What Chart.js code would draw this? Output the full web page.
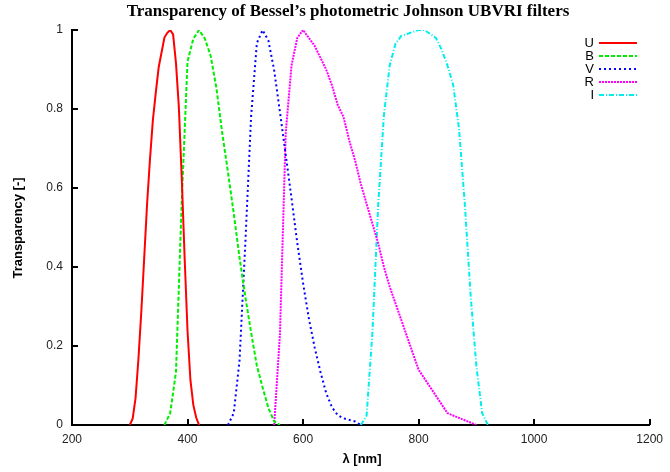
<!DOCTYPE html>
<html>
<head>
<meta charset="utf-8">
<script src="https://cdn.jsdelivr.net/npm/chart.js@4.4.1/dist/chart.umd.min.js"></script>
<style>
  html, body { margin: 0; padding: 0; background: #fff; }
  #wrap { width: 670px; height: 472px; }
</style>
</head>
<body>
<div id="wrap"><canvas id="filters"></canvas></div>
<script>
// Bessell UBVRI passbands: wavelength [nm] and normalised transmission
const uWave = [300, 305, 310, 315, 320, 325, 330, 335, 340, 345, 350, 355, 360, 365, 370, 375, 380, 385, 390, 395, 400, 405, 410, 415, 420];
const uTrans = [0.0, 0.016, 0.068, 0.167, 0.287, 0.423, 0.560, 0.673, 0.772, 0.841, 0.905, 0.943, 0.981, 0.993, 1.0, 0.989, 0.916, 0.804, 0.625, 0.423, 0.238, 0.114, 0.051, 0.019, 0.0];

const bWave = [360, 370, 380, 390, 400, 410, 420, 430, 440, 450, 460, 470, 480, 490, 500, 510, 520, 530, 540, 550, 560];
const bTrans = [0.0, 0.030, 0.134, 0.567, 0.920, 0.978, 1.0, 0.978, 0.935, 0.853, 0.740, 0.640, 0.536, 0.424, 0.325, 0.235, 0.150, 0.095, 0.043, 0.009, 0.0];

const vWave = [470, 480, 490, 500, 510, 520, 530, 540, 550, 560, 570, 580, 590, 600, 610, 620, 630, 640, 650, 660, 670, 680, 690, 700];
const vTrans = [0.0, 0.030, 0.163, 0.458, 0.780, 0.967, 1.0, 0.973, 0.898, 0.792, 0.684, 0.574, 0.461, 0.359, 0.270, 0.197, 0.135, 0.081, 0.045, 0.025, 0.017, 0.013, 0.009, 0.0];

const rWave = [550, 560, 570, 580, 590, 600, 610, 620, 630, 640, 650, 660, 670, 680, 690, 700, 710, 720, 730, 740, 750, 800, 850, 900];
const rTrans = [0.0, 0.23, 0.74, 0.91, 0.98, 1.0, 0.98, 0.96, 0.93, 0.90, 0.86, 0.81, 0.78, 0.72, 0.67, 0.61, 0.56, 0.51, 0.46, 0.40, 0.35, 0.14, 0.03, 0.0];

const iWave = [700, 710, 720, 730, 740, 750, 760, 770, 780, 790, 800, 810, 820, 830, 840, 850, 860, 870, 880, 890, 900, 910, 920];
const iTrans = [0.0, 0.024, 0.232, 0.555, 0.785, 0.910, 0.965, 0.985, 0.990, 0.995, 1.0, 1.0, 0.990, 0.980, 0.950, 0.910, 0.860, 0.750, 0.560, 0.330, 0.150, 0.030, 0.0];

const filterNames = ['U', 'B', 'V', 'R', 'I'];
const xTicks = [200, 400, 600, 800, 1000, 1200];
const yTicks = [0, 0.2, 0.4, 0.6, 0.8, 1];

const curves = [
  { wave: uWave, trans: uTrans, color: '#ff0000', dash: [] },
  { wave: bWave, trans: bTrans, color: '#00ee00', dash: [4, 2] },
  { wave: vWave, trans: vTrans, color: '#0000ff', dash: [2, 3] },
  { wave: rWave, trans: rTrans, color: '#ff00ff', dash: [2, 1] },
  { wave: iWave, trans: iTrans, color: '#00eeee', dash: [5, 2, 1, 2] }
];

const datasets = curves.map((c, i) => ({
  label: filterNames[i],
  data: c.wave.map((w, k) => ({ x: w, y: c.trans[k] })),
  borderColor: c.color,
  borderDash: c.dash,
  borderWidth: 2,
  pointRadius: 0,
  fill: false,
  tension: 0
}));

// inward tick marks, title, axis labels and key
const decorations = {
  id: 'decorations',
  afterDraw(chart) {
    const ctx = chart.ctx;
    const xs = chart.scales.x, ys = chart.scales.y;
    const area = chart.chartArea;
    ctx.save();
    ctx.strokeStyle = '#000';
    ctx.lineWidth = 2;
    ctx.setLineDash([]);
    xTicks.forEach(v => {
      const px = Math.round(xs.getPixelForValue(v));
      ctx.beginPath();
      ctx.moveTo(px, area.bottom);
      ctx.lineTo(px, area.bottom - 6);
      ctx.stroke();
    });
    yTicks.forEach(v => {
      const py = Math.round(ys.getPixelForValue(v));
      ctx.beginPath();
      ctx.moveTo(area.left, py);
      ctx.lineTo(area.left + 6, py);
      ctx.stroke();
    });

    ctx.fillStyle = '#000';
    ctx.textAlign = 'center';
    ctx.textBaseline = 'middle';
    ctx.font = 'bold 17px "Liberation Serif", "Times New Roman", serif';
    ctx.fillText('Transparency of Bessel\u2019s photometric Johnson UBVRI filters', 348, 12);

    ctx.font = 'bold 13px "Liberation Sans", Arial, sans-serif';
    ctx.fillText('\u03bb [nm]', 362, 459);
    ctx.save();
    ctx.translate(18, 228);
    ctx.rotate(-Math.PI / 2);
    ctx.fillText('Transparency [-]', 0, 0);
    ctx.restore();

    // key in the upper right corner
    ctx.font = '13px "Liberation Sans", Arial, sans-serif';
    chart.data.datasets.forEach((ds, i) => {
      const y = 43 + i * 13;
      ctx.fillStyle = '#000';
      ctx.textAlign = 'right';
      ctx.fillText(ds.label, 594, y);
      ctx.strokeStyle = ds.borderColor;
      ctx.setLineDash(ds.borderDash);
      ctx.beginPath();
      ctx.moveTo(599, y);
      ctx.lineTo(637, y);
      ctx.stroke();
    });
    ctx.restore();
  }
};

new Chart(document.getElementById('filters'), {
  type: 'line',
  data: { datasets: datasets },
  options: {
    responsive: true,
    maintainAspectRatio: false,
    animation: false,
    layout: { padding: { top: 30, right: 14, bottom: 0, left: 0 } },
    plugins: {
      legend: { display: false },
      title: { display: false },
      tooltip: { enabled: false }
    },
    scales: {
      x: {
        type: 'linear',
        min: 200,
        max: 1200,
        afterFit(scale) { scale.height = 47; },
        afterBuildTicks(scale) { scale.ticks = xTicks.map(v => ({ value: v })); },
        grid: { drawOnChartArea: false, drawTicks: false },
        border: { color: '#000', width: 2 },
        ticks: {
          color: '#222',
          padding: 7,
          maxRotation: 0,
          font: { family: '"Liberation Sans", Arial, sans-serif', size: 12 },
          callback: v => String(v)
        }
      },
      y: {
        type: 'linear',
        min: 0,
        max: 1,
        afterFit(scale) { scale.width = 72; },
        afterBuildTicks(scale) { scale.ticks = yTicks.map(v => ({ value: v })); },
        grid: { drawOnChartArea: false, drawTicks: false },
        border: { color: '#000', width: 2 },
        ticks: {
          color: '#222',
          padding: 9,
          font: { family: '"Liberation Sans", Arial, sans-serif', size: 12 },
          callback: v => String(Math.round(v * 10) / 10)
        }
      }
    }
  },
  plugins: [decorations]
});
</script>
</body>
</html>
